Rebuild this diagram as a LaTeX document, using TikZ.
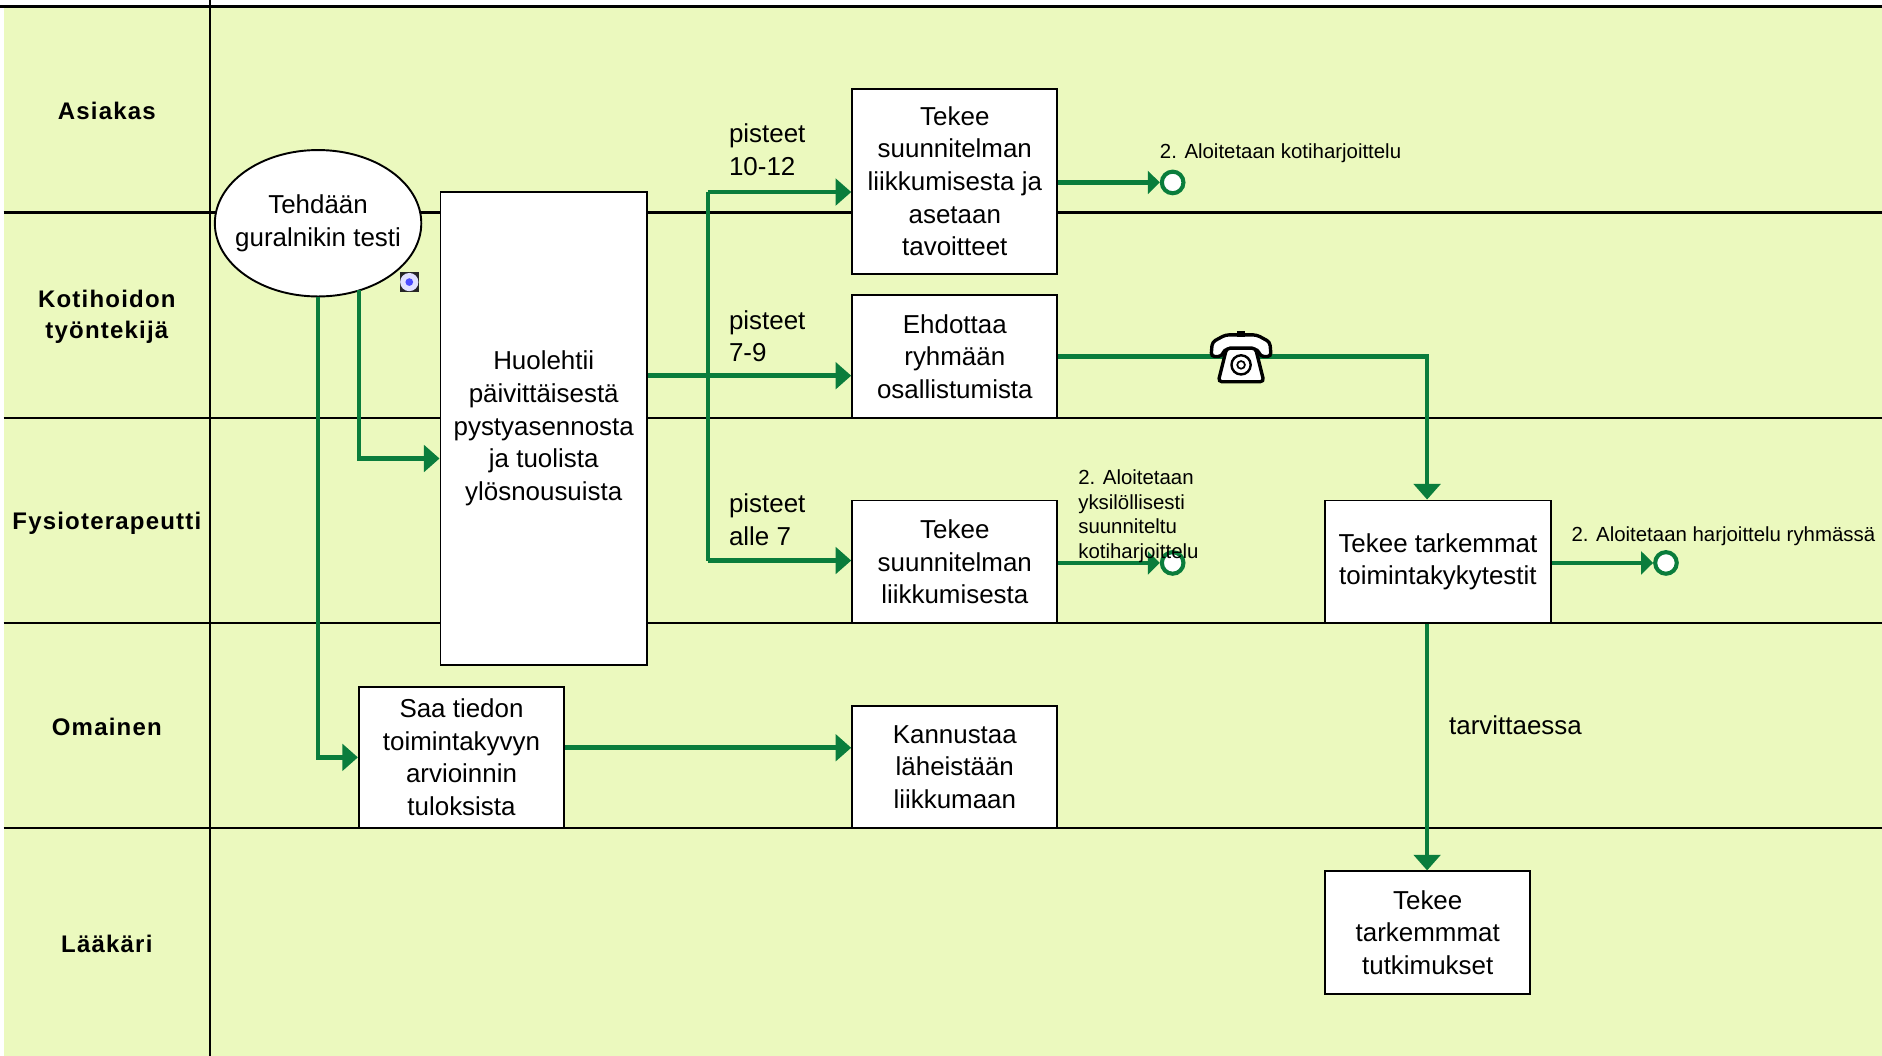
\documentclass[tikz,border=0pt]{standalone}
\usepackage{fontspec}
\setmainfont{Liberation Sans}
\newfontfamily\lanefont[LetterSpace=5]{Liberation Sans}
\usetikzlibrary{arrows.meta,shapes.geometric}
\definecolor{lanebg}{RGB}{235,249,190}
\definecolor{flowc}{RGB}{10,125,60}
\begin{document}
\begin{tikzpicture}[x=0.5pt,y=-0.5pt,
  laneline/.style={draw=black,line width=1pt},
  lanelabel/.style={font=\lanefont\bfseries\fontsize{10}{13}\selectfont,align=center},
  task/.style={draw=black,line width=0.8pt,fill=white,align=center,inner sep=1pt,
    font=\fontsize{10.8}{13.6}\selectfont},
  flow/.style={draw=flowc,line width=1.9pt},
  arr/.style={flow,-{Triangle[length=6.5pt,width=11pt]}},
  endarr/.style={flow,-{Triangle[length=5pt,width=9.5pt]}},
  endev/.style={circle,draw=flowc,line width=1.7pt,fill=white,minimum size=9pt,inner sep=0pt},
  note/.style={align=left,anchor=west,inner sep=0pt,font=\fontsize{8.5}{10.3}\selectfont},
  lbl/.style={align=left,anchor=west,inner sep=0pt,font=\fontsize{10.8}{13.6}\selectfont}]
\useasboundingbox (0,0) rectangle (1568,879.5);
% background and lanes
\fill[lanebg] (3,6) rectangle (1568,879.5);
\draw[laneline] (0,5.5) -- (1568,5.5);
\draw[laneline] (175,0) -- (175,879.5);
\foreach \yy in {177,348,519,690}{\draw[laneline] (3,\yy) -- (1568,\yy);}
\node[lanelabel] (L1) at (89,92) {Asiakas};
\node[lanelabel] (L2) at (89,264) {Kotihoidon\\työntekijä};
\node[lanelabel] (L3) at (89,436) {Fysioterapeutti};
\node[lanelabel] (L4) at (89,606) {Omainen};
\node[lanelabel] (L5) at (89,786) {Lääkäri};
% nodes
\node[ellipse,draw=black,line width=0.8pt,fill=white,minimum width=86pt,minimum height=61pt,
  inner xsep=-7pt,inner ysep=0pt,align=center,font=\fontsize{10.8}{13.6}\selectfont] (ell) at (265,186) {Tehdään\\guralnikin testi};
\node[task,minimum width=86pt,minimum height=197pt] (huol) at (453,357)
  {Huolehtii\\päivittäisestä\\pystyasennosta\\ja tuolista\\ylösnousuista};
\node[task,minimum width=85.5pt,minimum height=77pt] (plan1) at (795.5,151)
  {Tekee\\suunnitelman\\liikkumisesta ja\\asetaan\\tavoitteet};
\node[task,minimum width=85.5pt,minimum height=51pt] (ehd) at (795.5,297)
  {Ehdottaa\\ryhmään\\osallistumista};
\node[task,minimum width=85.5pt,minimum height=51pt] (plan2) at (795.5,468)
  {Tekee\\suunnitelman\\liikkumisesta};
\node[task,minimum width=85.5pt,minimum height=59pt] (saa) at (384.5,631)
  {Saa tiedon\\toimintakyvyn\\arvioinnin\\tuloksista};
\node[task,minimum width=85.5pt,minimum height=51pt] (kann) at (795.5,639)
  {Kannustaa\\läheistään\\liikkumaan};
\node[task,minimum width=94pt,minimum height=51pt] (test) at (1198,468)
  {Tekee tarkemmat\\toimintakykytestit};
\node[task,minimum width=85.5pt,minimum height=51pt] (tutk) at (1189.5,777)
  {Tekee\\tarkemmmat\\tutkimukset};
% end events
\node[endev] (e1) at (977,152) {};
\node[endev] (e2) at (977,469) {};
\node[endev] (e3) at (1388,469) {};
% helper coordinates
\coordinate (y313) at (0,313);
\coordinate (y382) at (0,382);
\coordinate (y623) at (0,623);
\coordinate (tTop) at (590,160);
\coordinate (tBot) at (590,467);
\coordinate (s2) at (299,242);
\coordinate (c1) at (1189,297);
% connectors
\draw[flow] (tTop) -- (tBot);
\draw[arr] (huol.east |- y313) -- (ehd.west |- y313);
\draw[arr] (tTop) -- (plan1.west |- tTop);
\draw[arr] (tBot) -- (plan2.west |- tBot);
\draw[endarr] (plan1.east |- e1) -- (e1);
\draw[endarr] (plan2.east |- e2) -- (e2);
\draw[endarr] (test.east |- e3) -- (e3);
\draw[arr] (ehd.east) -- (c1) -- (c1 |- test.north);
\draw[arr] (c1 |- test.south) -- (c1 |- tutk.north);
\draw[arr] (ell.south) -- (ell.south |- saa.west) -- (saa.west);
\draw[arr] (s2) -- (s2 |- y382) -- (huol.west |- y382);
\draw[arr] (saa.east |- y623) -- (kann.west |- y623);
% labels
\node[lbl] (p1) at (607,125) {pisteet\\10-12};
\node[lbl] (p2) at (607,280) {pisteet\\7-9};
\node[lbl] (p3) at (607,433) {pisteet\\alle 7};
\node[lbl] (tarv) at (1207,604) {tarvittaessa};
\node[note] (n1) at (966,128) {2. Aloitetaan kotiharjoittelu};
\node[note] (n2) at (898,430) {2. Aloitetaan\\yksilöllisesti\\suunniteltu\\kotiharjoittelu};
\node[note] (n3) at (1309,447) {2. Aloitetaan harjoittelu ryhmässä};
% info icon
\fill[black!85] (333,227) rectangle (349,243);
\fill[white!70!blue!40] (341,235) circle (3.8pt);
\fill[blue!70] (341,235) circle (1.6pt);
% telephone
\begin{scope}[shift={(1034,297)}]
\filldraw[fill=white,draw=black,line width=1.4pt,rounded corners=1.5pt]
  (-25,0) -- (-24,-12) -- (-13,-18) -- (13,-18) -- (24,-12) -- (25,0) -- (16,0) -- (14,-6) -- (-14,-6) -- (-16,0) -- cycle;
\filldraw[fill=black] (-3,-21) rectangle (3,-17);
\filldraw[fill=white,draw=black,line width=1.4pt,rounded corners=1.5pt]
  (-12,-7) -- (12,-7) -- (19,21) -- (-19,21) -- cycle;
\draw[line width=1pt] (0,7) circle (4pt);
\draw[line width=0.7pt] (0,7) circle (1.6pt);
\end{scope}
\end{tikzpicture}
\end{document}
